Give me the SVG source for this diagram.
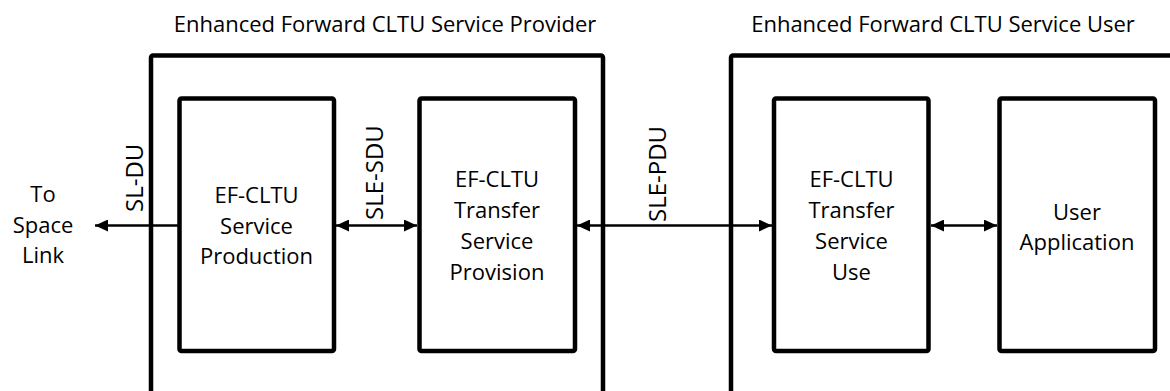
<svg xmlns="http://www.w3.org/2000/svg" width="1170" height="391" viewBox="0 0 1170 391">
<style>
.box{fill:none;stroke:#000;stroke-width:4.5;stroke-linejoin:round}
.outer{fill:none;stroke:#000;stroke-width:4.5;stroke-linejoin:round}
.t{font-family:"Open Sans","Liberation Sans",sans-serif;font-size:22px;fill:#000;text-anchor:middle}
.r{font-family:"Open Sans","Liberation Sans",sans-serif;font-size:24px;fill:#000;text-anchor:start}
.c{fill:none;stroke:#000;stroke-width:2.5}
</style>
<defs>
<marker id="ah" markerUnits="userSpaceOnUse" markerWidth="14" markerHeight="12" refX="13" refY="6" orient="auto-start-reverse" viewBox="0 0 14 12">
<path d="M0,0 L13,6 L0,12 Z" fill="#000"/>
</marker>
</defs>
<rect width="1170" height="391" fill="#fff"/>
<g id="provider">
<rect class="outer" x="151" y="55.5" width="452" height="400" rx="2"/>
<text class="t" x="385" y="32">Enhanced Forward CLTU Service Provider</text>
</g>
<g id="user">
<rect class="outer" x="731" y="55.5" width="500" height="400" rx="2"/>
<text class="t" x="943" y="32">Enhanced Forward CLTU Service User</text>
</g>
<g id="production">
<rect class="box" x="179.5" y="98.5" width="154.5" height="252.5" rx="2"/>
<text class="t" x="256.5" y="203">EF-CLTU</text>
<text class="t" x="256.5" y="234">Service</text>
<text class="t" x="256.5" y="264">Production</text>
</g>
<g id="provision">
<rect class="box" x="419.5" y="98.5" width="155.5" height="252.5" rx="2"/>
<text class="t" x="497" y="187">EF-CLTU</text>
<text class="t" x="497" y="218">Transfer</text>
<text class="t" x="497" y="249">Service</text>
<text class="t" x="497" y="280">Provision</text>
</g>
<g id="use">
<rect class="box" x="774" y="98.5" width="154.5" height="252.5" rx="2"/>
<text class="t" x="851.5" y="187">EF-CLTU</text>
<text class="t" x="851.5" y="218">Transfer</text>
<text class="t" x="851.5" y="249">Service</text>
<text class="t" x="851.5" y="280">Use</text>
</g>
<g id="application">
<rect class="box" x="999.5" y="98.5" width="155.5" height="252.5" rx="2"/>
<text class="t" x="1077" y="220">User</text>
<text class="t" x="1077" y="250">Application</text>
</g>
<g id="spacelink">
<text class="t" x="43" y="202">To</text>
<text class="t" x="43" y="233">Space</text>
<text class="t" x="43" y="263">Link</text>
</g>
<g id="connectors">
<line class="c" x1="179" y1="225.5" x2="95" y2="225.5" marker-end="url(#ah)"/>
<line class="c" x1="336" y1="225.5" x2="417" y2="225.5" marker-start="url(#ah)" marker-end="url(#ah)"/>
<line class="c" x1="577" y1="225.5" x2="772" y2="225.5" marker-start="url(#ah)" marker-end="url(#ah)"/>
<line class="c" x1="931" y1="225.5" x2="997" y2="225.5" marker-start="url(#ah)" marker-end="url(#ah)"/>
<text class="r" transform="translate(143,212) rotate(-90)">SL-DU</text>
<text class="r" transform="translate(383,220) rotate(-90)">SLE-SDU</text>
<text class="r" transform="translate(666,222) rotate(-90)">SLE-PDU</text>
</g>
</svg>
